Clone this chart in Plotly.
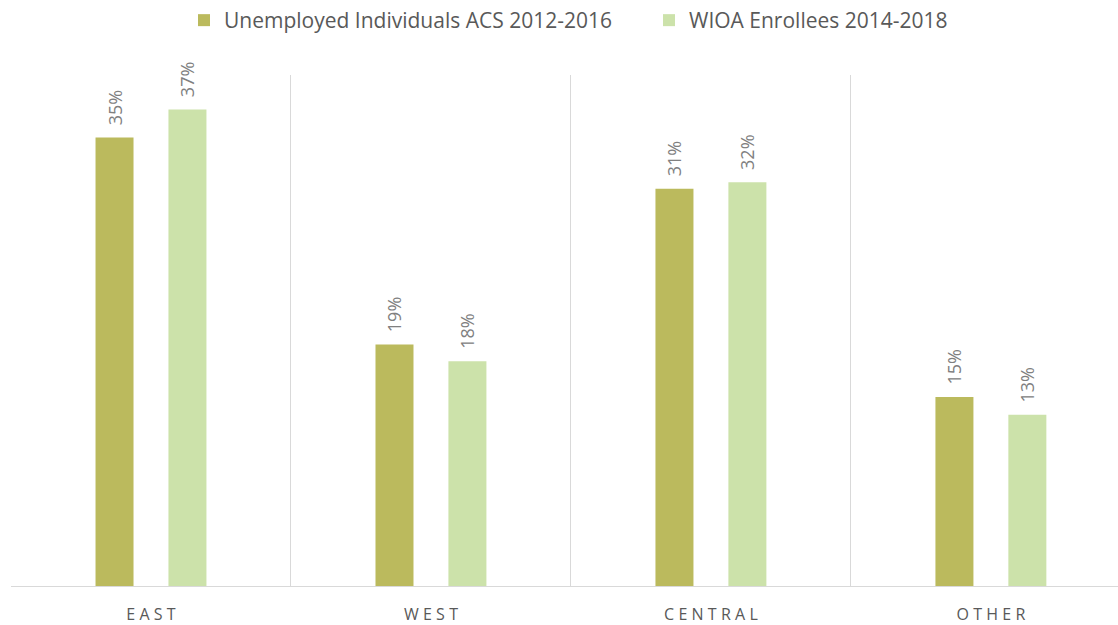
import plotly.graph_objects as go

# Regional share of unemployed individuals vs. WIOA enrollees
regions = ["EAST", "WEST", "CENTRAL", "OTHER"]
unemployed_acs = [35.1, 18.9, 31.1, 14.8]
wioa_enrollees = [37.3, 17.6, 31.6, 13.4]

series_names = ["Unemployed Individuals ACS 2012-2016", "WIOA Enrollees 2014-2018"]
series_colors = ["#BBBA5D", "#CCE2AA"]

FONT = "Open Sans"


def spaced(label):
    # widen the category labels with extra spacing between letters
    return "\u2009\u200a".join(label)


fig = go.Figure()
for name, vals, col in zip(series_names, [unemployed_acs, wioa_enrollees], series_colors):
    fig.add_trace(go.Bar(
        name=name,
        x=[spaced(r) for r in regions],
        y=vals,
        marker=dict(color=col, line=dict(width=0)),
        texttemplate="\u00a0\u00a0%{y:.0f}%",
        textposition="outside",
        textangle=-90,
        constraintext="none",
        textfont=dict(family=FONT, size=18, color="#808080"),
        cliponaxis=False,
    ))

fig.update_layout(
    width=1118,
    height=625,
    margin=dict(l=11, r=0, t=75, b=37),
    paper_bgcolor="white",
    plot_bgcolor="white",
    barmode="group",
    bargap=0.479,
    bargroupgap=0.479,
    font=dict(family=FONT, color="#595959"),
    showlegend=True,
    legend=dict(
        orientation="h",
        xref="container",
        x=184 / 1118,
        xanchor="left",
        yref="container",
        y=1.0,
        yanchor="top",
        entrywidth=420,
        font=dict(family=FONT, size=21, color="#595959"),
        itemclick=False,
    ),
)

fig.update_xaxes(
    type="category",
    range=[-0.5, 3.454],
    tickson="boundaries",
    showgrid=True,
    gridcolor="#D9D9D9",
    gridwidth=1.3,
    showline=True,
    linecolor="#D9D9D9",
    linewidth=1.3,
    ticks="",
    ticklabelstandoff=14,
    tickfont=dict(family=FONT, size=16, color="#595959"),
    zeroline=False,
)
fig.update_yaxes(
    range=[0, 40],
    showgrid=False,
    showticklabels=False,
    zeroline=False,
    showline=False,
)

fig.write_html("out.html")
